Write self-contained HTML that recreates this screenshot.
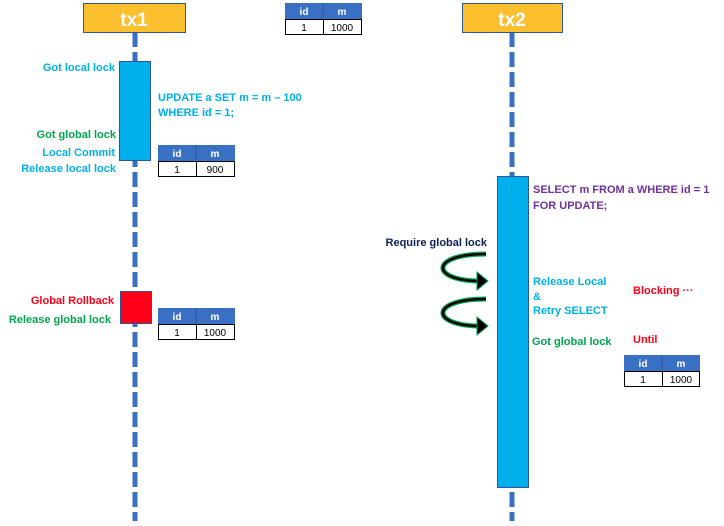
<!DOCTYPE html>
<html><head><meta charset="utf-8"><style>
body{margin:0;width:724px;height:521px;background:#fff;overflow:hidden;font-family:"Liberation Sans",sans-serif}
</style></head><body>
<svg width="724" height="521" xmlns="http://www.w3.org/2000/svg" font-family="Liberation Sans, sans-serif" font-weight="bold">
<line x1="135" y1="33" x2="135" y2="521" stroke="#3a70c4" stroke-width="5" stroke-dasharray="15 5" stroke-dashoffset="1"/>
<line x1="512" y1="33" x2="512" y2="521" stroke="#3a70c4" stroke-width="5" stroke-dasharray="15 5" stroke-dashoffset="1"/>
<rect x="83.5" y="3.5" width="102" height="29" fill="#fcbf2e" stroke="#2f5597"/>
<text x="134" y="26" text-anchor="middle" fill="#fff" font-size="19">tx1</text>
<rect x="462.5" y="3.5" width="100" height="29" fill="#fcbf2e" stroke="#2f5597"/>
<text x="512" y="26" text-anchor="middle" fill="#fff" font-size="19">tx2</text>
<rect x="119.5" y="61.5" width="31" height="99" fill="#00b0ec" stroke="#2f5597"/>
<rect x="120.5" y="291.5" width="31" height="32" fill="#ff0019" stroke="#2f5597"/>
<rect x="497.5" y="176.5" width="31" height="311" fill="#00b0ec" stroke="#2f5597"/>
<g font-size="11">
<g text-anchor="end">
<text x="115" y="71" fill="#00b0ec">Got local lock</text>
<text x="116" y="138" fill="#00a550">Got global lock</text>
<text x="115" y="156" fill="#00b0ec">Local Commit</text>
<text x="116" y="172" fill="#00b0ec">Release local lock</text>
<text x="114" y="304" fill="#ff0019">Global Rollback</text>
<text x="111" y="323" fill="#00a550">Release global lock</text>
<text x="487" y="246" fill="#0d1e5a">Require global lock</text>
</g>
<text x="158" y="101" fill="#00b0ec">UPDATE a SET m = m – 100</text>
<text x="158" y="116" fill="#00b0ec">WHERE id = 1;</text>
<text x="533" y="193" fill="#7030a0">SELECT m FROM a WHERE id = 1</text>
<text x="533" y="209" fill="#7030a0">FOR UPDATE;</text>
<text x="533" y="285" fill="#00b0ec">Release Local</text>
<text x="533" y="300" fill="#00b0ec">&amp;</text>
<text x="533" y="314" fill="#00b0ec">Retry SELECT</text>
<text x="532" y="345" fill="#00a550">Got global lock</text>
<text x="633" y="294" fill="#ff0019">Blocking ···</text>
<text x="633" y="343" fill="#ff0019">Until</text>
</g>
<g fill="none">
<path d="M486,254 C430,254 430,280 478,281" stroke="#00a550" stroke-width="5"/>
<path d="M486,254 C430,254 430,280 478,281" stroke="#000" stroke-width="2.5"/>
<path d="M486,299 C430,299 430,325 478,326" stroke="#00a550" stroke-width="5"/>
<path d="M486,299 C430,299 430,325 478,326" stroke="#000" stroke-width="2.5"/>
</g>
<polygon points="477,272 488,281 477,290" fill="#000" stroke="#00a550" stroke-width="1"/>
<polygon points="477,317 488,326 477,335" fill="#000" stroke="#00a550" stroke-width="1"/>
<g font-size="10">
<g transform="translate(285,3)">
<rect x="0" y="0" width="77" height="16" fill="#3a70c4"/><line x1="38" y1="0" x2="38" y2="16" stroke="#2f5597"/>
<rect x="0.5" y="16.5" width="76" height="15" fill="#fff" stroke="#000"/><line x1="38.5" y1="16" x2="38.5" y2="32" stroke="#000"/>
<text x="19" y="12" fill="#fff" text-anchor="middle">id</text><text x="57" y="12" fill="#fff" text-anchor="middle">m</text>
<text x="19" y="28" fill="#000" text-anchor="middle" font-weight="normal">1</text><text x="57" y="28" fill="#000" text-anchor="middle" font-weight="normal">1000</text>
</g>
<g transform="translate(158,145)">
<rect x="0" y="0" width="77" height="16" fill="#3a70c4"/><line x1="38" y1="0" x2="38" y2="16" stroke="#2f5597"/>
<rect x="0.5" y="16.5" width="76" height="15" fill="#fff" stroke="#000"/><line x1="38.5" y1="16" x2="38.5" y2="32" stroke="#000"/>
<text x="19" y="12" fill="#fff" text-anchor="middle">id</text><text x="57" y="12" fill="#fff" text-anchor="middle">m</text>
<text x="19" y="28" fill="#000" text-anchor="middle" font-weight="normal">1</text><text x="57" y="28" fill="#000" text-anchor="middle" font-weight="normal">900</text>
</g>
<g transform="translate(158,308)">
<rect x="0" y="0" width="77" height="16" fill="#3a70c4"/><line x1="38" y1="0" x2="38" y2="16" stroke="#2f5597"/>
<rect x="0.5" y="16.5" width="76" height="15" fill="#fff" stroke="#000"/><line x1="38.5" y1="16" x2="38.5" y2="32" stroke="#000"/>
<text x="19" y="12" fill="#fff" text-anchor="middle">id</text><text x="57" y="12" fill="#fff" text-anchor="middle">m</text>
<text x="19" y="28" fill="#000" text-anchor="middle" font-weight="normal">1</text><text x="57" y="28" fill="#000" text-anchor="middle" font-weight="normal">1000</text>
</g>
<g transform="translate(624,355)">
<rect x="0" y="0" width="76" height="16" fill="#3a70c4"/><line x1="38" y1="0" x2="38" y2="16" stroke="#2f5597"/>
<rect x="0.5" y="16.5" width="75" height="15" fill="#fff" stroke="#000"/><line x1="38.5" y1="16" x2="38.5" y2="32" stroke="#000"/>
<text x="19" y="12" fill="#fff" text-anchor="middle">id</text><text x="57" y="12" fill="#fff" text-anchor="middle">m</text>
<text x="19" y="28" fill="#000" text-anchor="middle" font-weight="normal">1</text><text x="57" y="28" fill="#000" text-anchor="middle" font-weight="normal">1000</text>
</g>
</g>
</svg>
</body></html>
